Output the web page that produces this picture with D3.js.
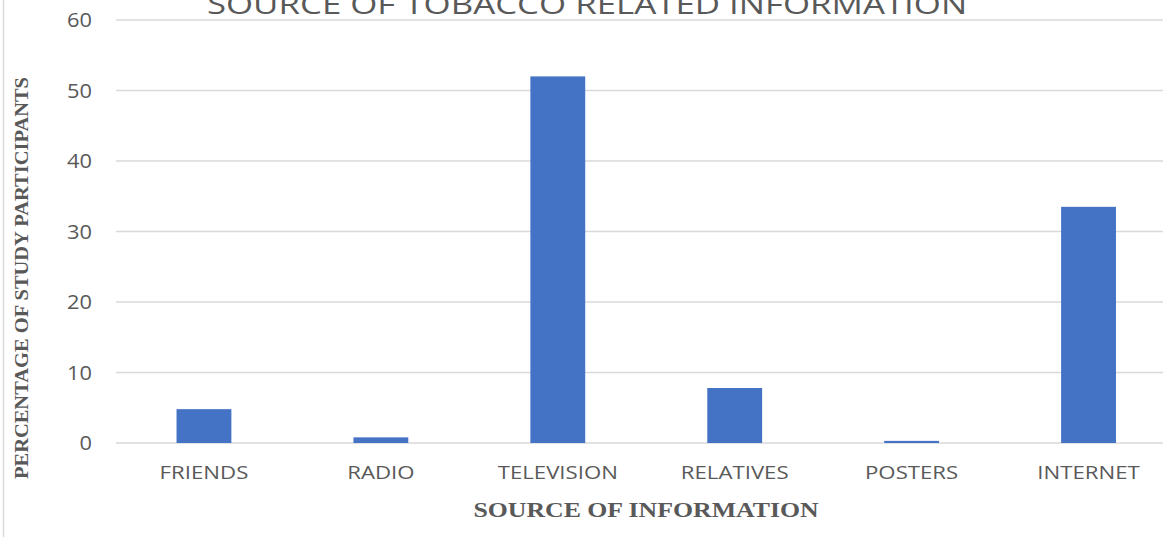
<!DOCTYPE html>
<html>
<head>
<meta charset="utf-8">
<script src="https://cdn.jsdelivr.net/npm/d3@7"></script>
<style>
  html, body { margin: 0; padding: 0; background: #fff; }
  svg { display: block; }
</style>
</head>
<body>
<svg id="chart" width="1163" height="537"></svg>
<script>
// Source of tobacco-related information (% of study participants)
const categories = ["FRIENDS", "RADIO", "TELEVISION", "RELATIVES", "POSTERS", "INTERNET"];
const percentages = [4.8, 0.8, 52, 7.8, 0.3, 33.5];
const yTicks = [0, 10, 20, 30, 40, 50, 60];

const svg = d3.select("#chart");
const W = 1163, H = 537;
const sans = "Open Sans, sans-serif";
const serif = "Liberation Serif, Times New Roman, serif";
const ink = "#595959";

const x = d3.scaleBand().domain(categories).range([115.5, 1177]).paddingInner(0.69).paddingOuter(0.345);
const y = d3.scaleLinear().domain([0, 60]).range([443, 20]);

// left frame edge
svg.append("line").attr("x1", 3.5).attr("x2", 3.5).attr("y1", 0).attr("y2", H)
  .attr("stroke", "#d9d9d9").attr("stroke-width", 1.5);

// gridlines
svg.append("g").selectAll("line").data(yTicks).join("line")
  .attr("x1", 116).attr("x2", 1177)
  .attr("y1", d => y(d)).attr("y2", d => y(d))
  .attr("stroke", "#d9d9d9").attr("stroke-width", 1.5);

// y tick labels (text is drawn slightly widened)
svg.append("g").selectAll("text").data(yTicks).join("text")
  .attr("transform", d => `translate(92,${y(d) + 7}) scale(1.12,1)`)
  .attr("text-anchor", "end")
  .attr("font-family", sans).attr("font-size", 19.5)
  .attr("fill", ink).text(d => d);

// bars
svg.append("g").selectAll("rect").data(categories).join("rect")
  .attr("x", d => x(d)).attr("width", x.bandwidth())
  .attr("y", (d, i) => y(percentages[i]))
  .attr("height", (d, i) => y(0) - y(percentages[i]))
  .attr("fill", "#4472c4");

// category labels
svg.append("g").selectAll("text").data(categories).join("text")
  .attr("transform", d => `translate(${x(d) + x.bandwidth() / 2},479) scale(1.22,1)`)
  .attr("text-anchor", "middle")
  .attr("font-family", sans).attr("font-size", 18.2)
  .attr("fill", ink).text(d => d);

// chart title (partly above the top edge)
svg.append("text").attr("transform", "translate(587,13.5) scale(1.29,1)")
  .attr("text-anchor", "middle")
  .attr("font-family", sans).attr("font-size", 27)
  .attr("fill", ink).text("SOURCE OF TOBACCO RELATED INFORMATION");

// axis titles
svg.append("text").attr("transform", "translate(646,517) scale(1.2,1)")
  .attr("text-anchor", "middle")
  .attr("font-family", serif).attr("font-weight", "bold").attr("font-size", 21.5)
  .attr("fill", ink).text("SOURCE OF INFORMATION");

svg.append("text").attr("transform", "translate(28,278) rotate(-90) scale(1.05,1)")
  .attr("text-anchor", "middle")
  .attr("font-family", serif).attr("font-weight", "bold").attr("font-size", 19.5)
  .attr("fill", ink).text("PERCENTAGE OF STUDY PARTICIPANTS");
</script>
</body>
</html>
